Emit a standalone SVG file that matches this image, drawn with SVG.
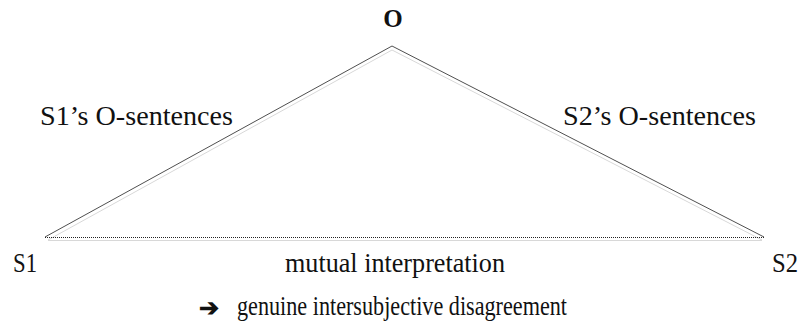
<svg xmlns="http://www.w3.org/2000/svg" width="801" height="331" viewBox="0 0 801 331">
<style>
text{font-family:'Liberation Serif','Times New Roman',serif;fill:#111}
.t{font-size:28px}
.shadow{fill:none;stroke:#d8d8d8;stroke-width:1}
.edge{fill:none;stroke:#222;stroke-width:0.8}
.dot{fill:none;stroke:#222;stroke-width:1;stroke-dasharray:1 1}
</style>
<rect width="801" height="331" fill="#fff"/>
<g id="connectors">
<polyline class="shadow" points="48,240 392,50 762,240"/>
<line class="shadow" x1="48" y1="240.5" x2="762" y2="240.5"/>
<polyline class="edge" points="45,237 392,46 764,237"/>
<line class="dot" x1="45" y1="237.5" x2="764" y2="237.5"/>
</g>
<g id="node-O"><text x="393" y="27" text-anchor="middle" font-family="Liberation Serif, serif" font-size="25" font-weight="bold">O</text></g>
<g id="node-S1"><text class="t" font-family="Liberation Serif, serif" x="13" y="272" textLength="24" lengthAdjust="spacingAndGlyphs">S1</text></g>
<g id="node-S2"><text class="t" font-family="Liberation Serif, serif" x="772" y="272" textLength="26" lengthAdjust="spacingAndGlyphs">S2</text></g>
<g id="label-s1"><text class="t" font-family="Liberation Serif, serif" x="40" y="125" textLength="193" lengthAdjust="spacingAndGlyphs">S1’s O-sentences</text></g>
<g id="label-s2"><text class="t" font-family="Liberation Serif, serif" x="563" y="125" textLength="193" lengthAdjust="spacingAndGlyphs">S2’s O-sentences</text></g>
<g id="label-mutual"><text class="t" font-family="Liberation Serif, serif" x="285" y="272" textLength="220" lengthAdjust="spacingAndGlyphs">mutual interpretation</text></g>
<g id="label-result">
<text x="199" y="316" font-family="DejaVu Sans, sans-serif" font-size="24" font-weight="bold" fill="#000">➔</text>
<text class="t" font-family="Liberation Serif, serif" x="237" y="315" textLength="330" lengthAdjust="spacingAndGlyphs">genuine intersubjective disagreement</text>
</g>
</svg>
